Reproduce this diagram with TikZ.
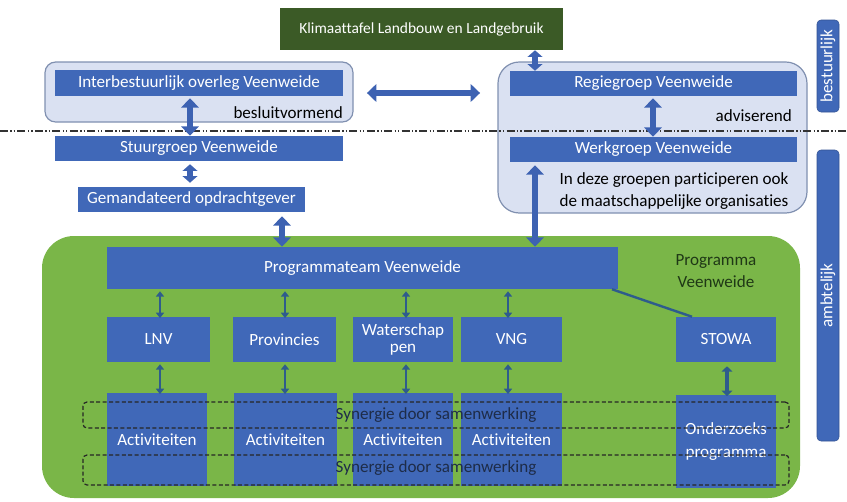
\documentclass[tikz,border=0pt]{standalone}
\usepackage{fontspec}
\setmainfont{Carlito}[Ligatures=NoCommon]
\usetikzlibrary{arrows.meta,fit,calc}
\definecolor{bbox}{HTML}{4068B8}
\definecolor{lblue}{HTML}{DAE1F2}
\definecolor{lborder}{HTML}{8090B0}
\definecolor{pgreen}{HTML}{7AB648}
\definecolor{dgreen}{HTML}{3B5A26}
\definecolor{fatblue}{HTML}{3D62B2}
\definecolor{thinblue}{HTML}{2E5C8C}
\definecolor{darktxt}{HTML}{1E2C48}
\definecolor{progtxt}{HTML}{1F3816}
\tikzset{
  bluebox/.style={fill=bbox, inner sep=0pt},
  btxt/.style={text=white, inner sep=0pt, align=center, font=\fontsize{12.8}{15}\selectfont},
  panel/.style={fill=lblue, draw=lborder, line width=0.9pt, inner sep=0pt},
  tab/.style={fill=bbox, draw=bbox!80!black, line width=0.4pt, rounded corners=3pt, inner sep=0pt},
  fat/.style={draw=fatblue, line width=5pt, {Triangle[width=13pt,length=7pt]}-{Triangle[width=13pt,length=7pt]}},
  fatshort/.style={draw=fatblue, line width=4.5pt, {Triangle[width=11pt,length=5pt]}-{Triangle[width=11pt,length=5pt]}},
  thin/.style={draw=thinblue, line width=1.6pt, {Triangle[width=6pt,length=4pt]}-{Triangle[width=6pt,length=4pt]}},
  mid/.style={draw=thinblue, line width=2.8pt, {Triangle[width=8pt,length=4pt]}-{Triangle[width=8pt,length=4pt]}},
  synergy/.style={draw=black!85, dash pattern=on 3pt off 1.8pt, line width=0.9pt, rounded corners=3pt},
  plain/.style={font=\fontsize{12.8}{15}\selectfont, inner sep=0pt, align=center},
}
\begin{document}
\begin{tikzpicture}[x=0.75pt,y=-0.75pt]
\useasboundingbox (0,0) rectangle (847,501);
% programme background
\node[fit={(42,236) (800,498)}, inner sep=0pt, fill=pgreen, rounded corners=24pt] (prog) {};
% panels
\node[panel, rounded corners=8pt, fit={(45,62) (353,122)}] (lpanel) {};
\node[panel, rounded corners=16pt, fit={(498,62) (807,213)}] (rpanel) {};
% top box
\node[fit={(280,8) (563,50)}, inner sep=0pt, fill=dgreen] (klim) {};
\node[btxt, font=\fontsize{11.6}{14}\selectfont] (klim-t) at (klim.center) {Klimaattafel Landbouw en Landgebruik};
% left column
\node[bluebox, fit={(55,70) (343,96)}] (ibo) {};
\node[btxt] (ibo-t) at (ibo.center) {Interbestuurlijk overleg Veenweide};
\node[plain, anchor=east] (besl) at (343,113) {besluitvormend};
\node[bluebox, fit={(55,136) (343,161)}] (stuur) {};
\node[btxt] (stuur-t) at (stuur.center) {Stuurgroep Veenweide};
\node[bluebox, fit={(78,187) (305,212)}] (gem) {};
\node[btxt] (gem-t) at (gem.center) {Gemandateerd opdrachtgever};
% right column
\node[bluebox, fit={(510,71) (797,96)}] (regie) {};
\node[btxt] (regie-t) at (regie.center) {Regiegroep Veenweide};
\node[plain, anchor=east] (advi) at (792,116) {adviserend};
\node[bluebox, fit={(510,137) (797,162)}] (werk) {};
\node[btxt] (werk-t) at (werk.center) {Werkgroep Veenweide};
\node[plain] (indeze) at (674,191) {In deze groepen participeren ook\\[1pt]de maatschappelijke organisaties};
% tabs
\node[tab, fit={(817,20) (839,112)}] (best) {};
\node[btxt, rotate=90] (best-t) at (best.center) {bestuurlijk};
\node[tab, fit={(817,150) (839,441)}] (ambt) {};
\node[btxt, rotate=90] (ambt-t) at (ambt.center) {ambtelijk};
% separator line
\coordinate (sepL) at (0,131);
\coordinate (sepR) at (847,131);
\draw[black!80, line width=0.9pt, dash pattern=on 6pt off 1.8pt on 1pt off 1.5pt on 1pt off 1.8pt] (sepL) -- (sepR);
% programme content
\node[bluebox, fit={(107,247) (618,289)}] (team) {};
\node[btxt] (team-t) at (team.center) {Programmateam Veenweide};
\node[plain, text=progtxt] (pvw) at (716,271) {Programma\\[1pt]Veenweide};
\node[bluebox, fit={(107,317) (210,362)}] (lnv) {};
\node[btxt] (lnv-t) at (lnv.center) {LNV};
\node[bluebox, fit={(233,317) (336,362)}] (prov) {};
\node[btxt] (prov-t) at (prov.center) {Provincies};
\node[bluebox, fit={(353,317) (453,362)}] (ws) {};
\node[btxt, font=\fontsize{12.8}{13}\selectfont] (ws-t) at (ws.center) {Waterschap\\pen};
\node[bluebox, fit={(461,317) (562,362)}] (vng) {};
\node[btxt] (vng-t) at (vng.center) {VNG};
\node[bluebox, fit={(676,317) (776,362)}] (stowa) {};
\node[btxt] (stowa-t) at (stowa.center) {STOWA};
\node[bluebox, fit={(107,393) (207,486)}] (a1) {};
\node[btxt] (a1-t) at (a1.center) {Activiteiten};
\node[bluebox, fit={(234,393) (337,486)}] (a2) {};
\node[btxt] (a2-t) at (a2.center) {Activiteiten};
\node[bluebox, fit={(353,393) (453,486)}] (a3) {};
\node[btxt] (a3-t) at (a3.center) {Activiteiten};
\node[bluebox, fit={(461,393) (562,486)}] (a4) {};
\node[btxt] (a4-t) at (a4.center) {Activiteiten};
\node[bluebox, fit={(676,395) (776,488)}] (ond) {};
\node[btxt] (ond-t) at (ond.center) {Onderzoeks\\[2pt]programma};
% synergy frames
\node[synergy, fit={(83,402) (789,428)}, inner sep=0pt] (syn1) {};
\node[synergy, fit={(83,455) (789,485)}, inner sep=0pt] (syn2) {};
\node[plain, text=darktxt] (syn1-t) at (436,415) {Synergie door samenwerking};
\node[plain, text=darktxt] (syn2-t) at (436,468) {Synergie door samenwerking};
% fat arrows
\draw[fat] ([xshift=10]lpanel.east |- 0,93) -- ([xshift=-13]rpanel.west |- 0,93);
\draw[fat] (190,0 |- ibo.south) ++(0,2) -- (190,0 |- stuur.north);
\draw[fatshort] (190,0 |- stuur.south) ++(0,3) -- ([yshift=3]190,0 |- gem.north);
\draw[fat] (282,0 |- gem.south) ++(0,4) -- (282,0 |- team.north);
\draw[fatshort] (535,0 |- klim.south) -- (535,0 |- regie.north);
\draw[fat] (653,0 |- regie.south) ++(0,2) -- (653,0 |- werk.north);
\draw[fat] (535,0 |- werk.south) ++(0,3) -- (535,0 |- team.north);
% thin arrows
\draw[thin] (160,0 |- team.south) ++(0,2) -- ([yshift=-1]160,0 |- lnv.north);
\draw[thin] (285,0 |- team.south) ++(0,2) -- ([yshift=-1]285,0 |- prov.north);
\draw[thin] (406,0 |- team.south) ++(0,2) -- ([yshift=-1]406,0 |- ws.north);
\draw[thin] (508,0 |- team.south) ++(0,2) -- ([yshift=-1]508,0 |- vng.north);
\draw[thin] (160,0 |- lnv.south) ++(0,2) -- ([yshift=-1]160,0 |- a1.north);
\draw[thin] (285,0 |- prov.south) ++(0,2) -- ([yshift=-1]285,0 |- a2.north);
\draw[thin] (406,0 |- ws.south) ++(0,2) -- ([yshift=-1]406,0 |- a3.north);
\draw[thin] (508,0 |- vng.south) ++(0,2) -- ([yshift=-1]508,0 |- a4.north);
\draw[mid] (727,0 |- stowa.south) ++(0,4) -- ([yshift=-1]727,0 |- ond.north);
\draw[thinblue, line width=1.8pt] (612,0 |- team.south) -- (692,0 |- stowa.north);
\end{tikzpicture}
\end{document}
